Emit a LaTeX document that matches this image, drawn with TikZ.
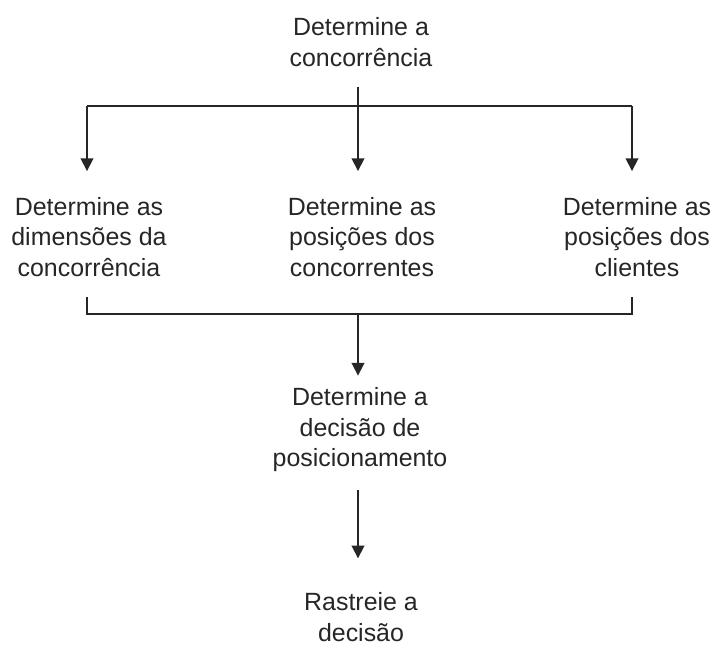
\documentclass[tikz,border=0pt]{standalone}
\usepackage{fontspec}
\setmainfont{Liberation Sans}
\usetikzlibrary{arrows.meta}
\begin{document}
\begin{tikzpicture}[
			x=0.75pt, y=-0.75pt,
			every node/.style={align=center, inner sep=0pt, text=black!85,
				font=\fontsize{18.7pt}{22.9pt}\selectfont},
			flow/.style={draw=black!85, line width=1.3pt},
			arrow/.style={flow, -{Triangle[width=9.5pt,length=9.5pt]}},
		]
		\useasboundingbox (0,0) rectangle (714,646);
		\node (comp) at (361,42) {Determine a\\concorrência};
		\coordinate (split) at (358,106);
		\coordinate (splitL) at (87,106);
		\coordinate (splitR) at (632,106);
		\node (dim) at (89,237) {Determine as\\dimensões da\\concorrência};
		\node (poscon) at (362,237) {Determine as\\posições dos\\concorrentes};
		\node (poscli) at (637,237) {Determine as\\posições dos\\clientes};
		\coordinate (join) at (358,314);
		\coordinate (joinL) at (87,314);
		\coordinate (joinR) at (632,314);
		\node (dec) at (360,430) {Determine a\\decisão de\\posicionamento};
		\node (track) at (361,617) {Rastreie a\\decisão};
		% fan out
		\draw[flow, shorten <=15pt] (split |- comp.south) -- (split);
		\draw[flow] (splitL) -- (splitR);
		\draw[arrow, shorten >=19.5pt] (splitL) -- (splitL |- dim.north);
		\draw[arrow, shorten >=19.5pt] (split) -- (split |- poscon.north);
		\draw[arrow, shorten >=19.5pt] (splitR) -- (splitR |- poscli.north);
		% gather
		\draw[flow, shorten <=15pt, shorten >=15pt] (joinL |- dim.south) -- (joinL) -- (joinR) -- (joinR |- poscli.south);
		\draw[arrow, shorten >=9pt] (join) -- (join |- dec.north);
		\draw[arrow, shorten <=13.5pt, shorten >=25.5pt] (join |- dec.south) -- (join |- track.north);
	\end{tikzpicture}
\end{document}
